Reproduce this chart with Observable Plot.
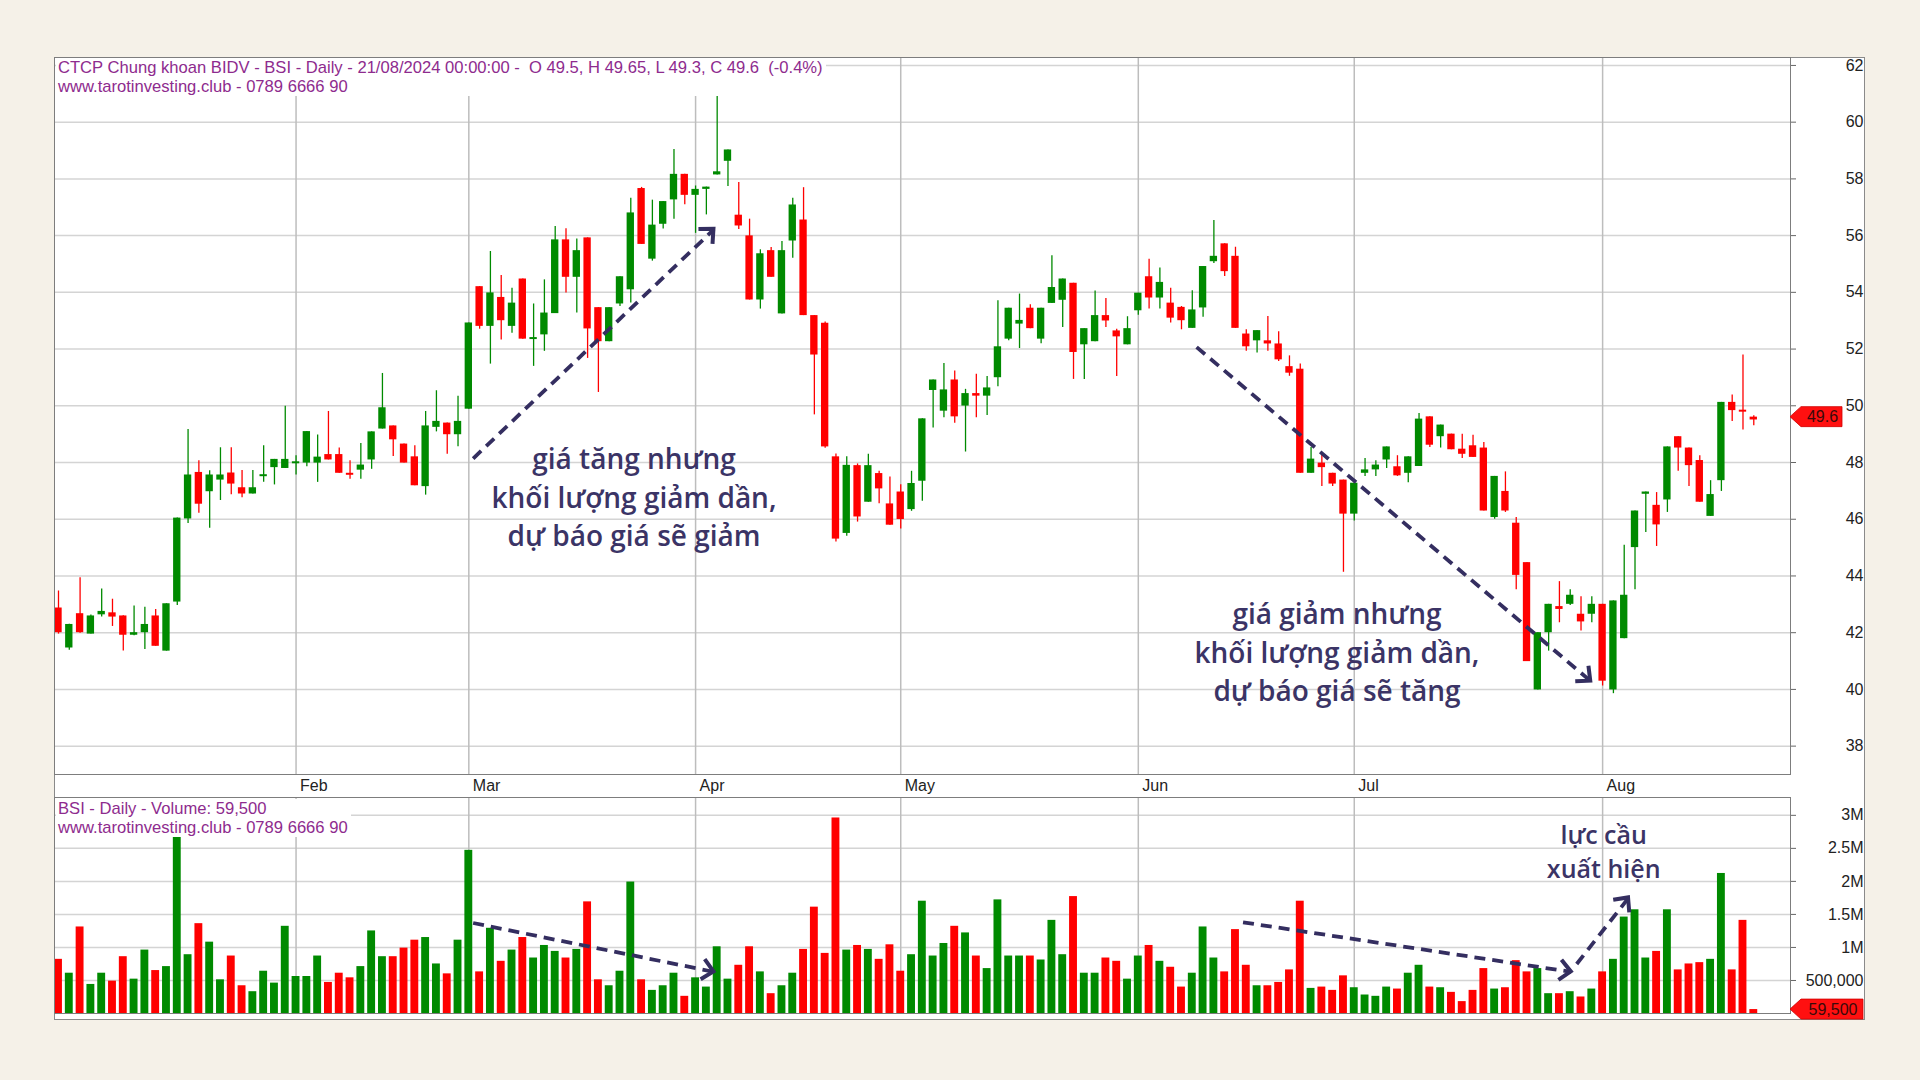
<!DOCTYPE html>
<html>
<head>
<meta charset="utf-8">
<script src="https://cdn.jsdelivr.net/npm/d3@7"></script>
<script src="https://cdn.jsdelivr.net/npm/@observablehq/plot@0.6"></script>
<style>
  html, body { margin: 0; padding: 0; }
  body { width: 1920px; height: 1080px; overflow: hidden; background: #f5f1e8; position: relative; font-family: "Liberation Sans", Arial, sans-serif; }
  #frame { position: absolute; left: 54px; top: 57px; width: 1811px; height: 963px; background: #fff; box-sizing: border-box; border: 1px solid #8a8a8a; }
  #price { position: absolute; left: 54px; top: 57px; }
  #volume { position: absolute; left: 54px; top: 797px; }
  .hdr { position: absolute; background: #fff; color: #8e2b8e; font-size: 16.6px; line-height: 19px; white-space: pre; padding: 0 3px 0 2px; }
</style>
</head>
<body>
<div id="frame"></div>
<div id="price"></div>
<div id="volume"></div>
<div class="hdr" style="left:56px;top:58px;">CTCP Chung khoan BIDV - BSI - Daily - 21/08/2024 00:00:00 -  O 49.5, H 49.65, L 49.3, C 49.6  (-0.4%)
www.tarotinvesting.club - 0789 6666 90</div>
<div class="hdr" style="left:56px;top:799px;">BSI - Daily - Volume: 59,500
www.tarotinvesting.club - 0789 6666 90</div>
<script>
// ---------- DATA ----------
const opens = [
  42.87,41.46,42.67,41.95,42.63,42.70,42.59,41.91,42.00,42.59,
  41.35,43.08,46.01,47.65,46.97,47.38,47.63,47.11,46.89,47.52,
  47.82,47.79,47.98,47.98,47.98,48.28,48.28,47.62,47.73,48.09,
  49.18,49.29,48.65,48.20,47.15,49.24,49.39,48.98,49.88,54.20,
  52.80,53.82,52.80,54.47,52.36,52.50,53.25,55.85,54.53,55.92,
  53.46,52.26,53.59,54.09,57.66,55.17,56.40,57.26,58.16,57.42,
  57.63,58.14,58.62,56.72,55.99,53.73,55.47,53.24,55.81,56.55,
  53.18,52.91,48.20,45.50,47.89,46.60,47.61,46.54,46.96,46.34,
  47.34,50.54,49.81,50.91,49.99,50.43,50.34,50.99,52.35,52.88,
  53.44,52.35,53.61,53.72,54.32,52.15,52.26,53.18,52.64,52.15,
  53.35,54.55,53.80,53.62,53.47,52.73,53.45,55.08,55.71,55.27,
  52.53,52.29,52.29,52.18,51.38,51.29,47.62,47.98,47.62,47.38,
  46.18,47.62,47.74,48.09,47.85,47.62,47.86,49.61,48.91,49.00,
  48.47,48.59,48.51,46.06,46.98,45.86,44.47,39.98,42.00,42.92,
  43.00,42.65,42.65,43.00,39.98,41.79,45.00,46.88,46.49,46.68,
  48.91,48.51,48.07,46.10,47.36,50.12,49.83,49.60
];
const highs = [
  43.47,42.30,43.94,42.62,43.54,43.18,42.60,42.94,42.90,42.82,
  43.02,46.04,49.16,48.06,47.71,48.52,48.52,47.72,47.72,48.59,
  48.11,49.98,48.24,49.09,48.97,49.80,48.51,48.06,48.67,49.08,
  51.14,49.29,48.65,48.59,49.80,50.53,49.39,50.34,52.92,54.20,
  55.44,54.59,54.14,54.47,53.59,54.44,56.32,56.24,55.88,55.92,
  53.46,53.46,54.55,57.32,57.70,57.25,57.20,59.04,58.16,57.75,
  57.71,61.13,59.02,57.87,56.58,55.50,55.58,55.79,57.32,57.69,
  53.18,52.95,48.30,48.20,47.95,48.29,47.69,47.49,47.22,47.69,
  49.54,50.91,51.49,51.23,50.58,51.11,51.03,53.70,53.44,53.94,
  53.56,53.44,55.29,54.47,54.32,52.72,54.05,53.78,52.70,53.14,
  53.97,55.17,54.86,54.14,53.50,54.06,54.91,56.53,55.71,55.59,
  52.68,52.65,53.15,52.61,51.76,51.47,48.53,48.29,47.62,47.38,
  47.27,48.14,48.06,48.55,48.24,48.20,49.73,49.61,49.32,49.00,
  49.00,48.96,48.71,47.51,47.67,46.06,44.47,42.00,43.00,43.80,
  43.51,43.27,43.27,43.00,43.12,45.08,46.29,46.96,46.94,48.55,
  48.91,48.51,48.24,47.36,50.12,50.38,51.79,49.65
];
const lows = [
  41.95,41.38,41.98,41.95,42.55,42.22,41.35,41.89,41.41,41.52,
  41.35,42.96,45.85,46.21,45.68,46.66,46.86,46.76,46.89,47.30,
  47.21,47.79,47.56,47.85,47.30,48.09,47.62,47.41,47.41,47.76,
  49.18,48.21,47.98,47.18,46.85,49.08,48.29,48.56,49.88,52.70,
  51.47,52.32,52.56,52.35,51.39,51.92,53.25,53.98,53.27,51.67,
  50.47,52.26,53.50,53.62,55.69,55.10,56.23,56.58,57.09,56.08,
  56.73,58.14,57.73,56.22,53.73,53.41,54.53,53.24,55.20,53.18,
  49.68,48.50,45.20,45.40,45.90,46.60,46.55,45.79,45.66,46.28,
  46.63,49.22,49.58,49.38,48.37,49.58,49.66,50.67,52.29,52.02,
  52.72,52.19,53.61,52.76,50.93,50.93,52.26,52.76,51.03,52.15,
  53.19,53.41,53.41,52.92,52.68,52.73,53.12,55.02,54.56,52.73,
  51.92,51.86,51.92,51.56,51.04,47.62,47.62,47.15,47.15,44.13,
  45.94,47.51,47.51,47.79,47.51,47.29,47.86,48.53,48.51,48.45,
  48.14,48.18,46.29,46.00,46.24,43.51,40.98,39.98,41.35,42.35,
  42.96,42.06,42.35,40.12,39.85,41.79,43.51,45.53,45.04,46.24,
  47.69,47.15,46.60,46.10,46.98,49.45,49.15,49.30
];
const closes = [
  42.00,42.29,42.00,42.59,42.75,42.55,41.91,42.00,42.29,41.52,
  43.02,46.04,47.56,46.53,47.56,47.56,47.24,46.89,47.11,47.55,
  48.11,48.11,48.00,49.09,48.19,48.09,47.62,47.55,47.91,49.08,
  49.93,48.80,47.98,47.18,49.29,49.45,48.98,49.45,52.92,52.80,
  53.98,53.00,53.62,52.35,52.38,53.27,55.85,54.53,55.47,52.71,
  52.26,53.46,54.55,56.80,55.69,56.37,57.20,58.16,57.42,57.63,
  57.71,58.25,59.02,56.34,53.73,55.36,54.53,55.47,57.08,53.18,
  51.79,48.55,45.30,47.90,46.08,47.89,47.07,45.79,45.99,47.26,
  49.54,50.91,50.56,49.61,50.43,50.34,50.63,52.08,53.44,53.01,
  52.72,53.44,54.17,54.47,51.88,52.72,53.18,52.99,52.43,52.72,
  53.97,53.80,54.35,53.09,53.00,53.38,54.91,55.27,54.73,52.73,
  52.08,52.65,52.18,51.62,51.15,47.62,48.12,47.82,47.24,46.18,
  47.27,47.74,47.91,48.55,47.53,48.20,49.53,48.61,49.32,48.45,
  48.29,48.18,46.29,47.51,46.29,44.02,40.98,42.00,43.00,42.82,
  43.32,42.38,43.00,40.29,43.12,43.32,46.29,46.96,45.80,48.55,
  48.51,47.89,46.60,46.87,50.12,49.83,49.79,49.50
];
// volume in millions of shares
const volumesM = [
  0.82,0.61,1.31,0.44,0.61,0.49,0.86,0.52,0.96,0.65,
  0.71,2.67,0.89,1.36,1.08,0.51,0.87,0.42,0.33,0.64,
  0.46,1.32,0.56,0.56,0.87,0.47,0.61,0.54,0.71,1.25,
  0.86,0.86,0.99,1.11,1.15,0.75,0.60,1.11,2.47,0.63,
  1.29,0.79,0.96,1.15,0.84,1.03,0.94,0.84,0.97,1.69,
  0.51,0.42,0.64,1.99,0.51,0.35,0.42,0.61,0.26,0.54,
  0.40,1.01,0.52,0.73,1.01,0.63,0.30,0.42,0.61,0.97,
  1.61,0.91,2.96,0.96,1.03,0.97,0.82,1.04,0.64,0.89,
  1.70,0.87,1.06,1.32,1.22,0.87,0.68,1.72,0.87,0.87,
  0.87,0.81,1.41,0.89,1.77,0.61,0.61,0.84,0.79,0.52,
  0.87,1.03,0.79,0.70,0.40,0.61,1.31,0.84,0.63,1.27,
  0.73,0.42,0.42,0.47,0.66,1.70,0.38,0.40,0.35,0.57,
  0.39,0.28,0.26,0.40,0.37,0.61,0.73,0.40,0.39,0.32,
  0.18,0.35,0.68,0.37,0.39,0.80,0.63,0.68,0.30,0.30,
  0.33,0.25,0.37,0.63,0.82,1.46,1.57,0.84,0.94,1.57,
  0.66,0.75,0.77,0.82,2.12,0.66,1.41,0.0595
];
const monthIdx = [22, 38, 59, 78, 100, 120, 143];   // first trading day of each month (bar index)
const monthLabels = ["Feb", "Mar", "Apr", "May", "Jun", "Jul", "Aug"];
const priceTicks = [38, 40, 42, 44, 46, 48, 50, 52, 54, 56, 58, 60, 62];
const volTicks = [500000, 1000000, 1500000, 2000000, 2500000, 3000000];
const volTickLabels = ["500,000", "1M", "1.5M", "2M", "2.5M", "3M"];
const lastClose = 49.6;
const lastVolume = 59500;

// annotations (in data units: bar index, price / volume)
const priceArrows = [
  {x1: 38.4, y1: 48.14, x2: 60.7, y2: 56.22},
  {x1: 105.4, y1: 52.07, x2: 141.9, y2: 40.29}
];
const volArrows = [
  {x1: 38.4, y1: 1370000, x2: 60.7, y2: 630000},
  {x1: 109.7, y1: 1380000, x2: 140.1, y2: 630000},
  {x1: 140.6, y1: 750000, x2: 145.4, y2: 1750000}
];
const priceNotes = [
  {x: 53.3, y: 46.84, text: "giá tăng nhưng\nkhối lượng giảm dần,\ndự báo giá sẽ giảm"},
  {x: 118.4, y: 41.37, text: "giá giảm nhưng\nkhối lượng giảm dần,\ndự báo giá sẽ tăng"}
];
const volNotes = [
  {x: 143.1, y: 2470000, text: "lực cầu\nxuất hiện"}
];

// ---------- BUILD ----------
const GREEN = "#008a00", RED = "#ff0000", NAVY = "#342e60", NOTE = "#3b3466";
const candles = opens.map((o, i) => {
  const c = closes[i];
  return {i, o, h: highs[i], l: lows[i], c, v: volumesM[i] * 1e6, col: c >= o ? GREEN : RED};
});
const bodyLo = d => { const lo = Math.min(d.o, d.c), hi = Math.max(d.o, d.c); return hi - lo < 0.07 ? (lo + hi) / 2 - 0.035 : lo; };
const bodyHi = d => { const lo = Math.min(d.o, d.c), hi = Math.max(d.o, d.c); return hi - lo < 0.07 ? (lo + hi) / 2 + 0.035 : hi; };

const W = 1811;
const xDomain = [-0.37, 160.4];
const baseStyle = {background: "transparent", fontFamily: "'Liberation Sans', Arial, sans-serif", fontSize: "16px", color: "#222", overflow: "visible"};
const noteFont = {fontFamily: "'Open Sans', 'Noto Sans', sans-serif", fontWeight: 600, fill: NOTE, lineAnchor: "middle", textAnchor: "middle"};

const priceChart = Plot.plot({
  width: W, height: 740,
  marginTop: 0, marginRight: 75, marginBottom: 23, marginLeft: 0,
  style: baseStyle,
  x: {type: "linear", domain: xDomain},
  y: {domain: [37.0, 62.28]},
  marks: [
    Plot.gridY(priceTicks, {stroke: "#d4d4d4", strokeOpacity: 1, strokeWidth: 1.5}),
    Plot.gridX(monthIdx, {stroke: "#bdbdbd", strokeOpacity: 1, strokeWidth: 1.5}),
    Plot.ruleX(candles, {x: "i", y1: "l", y2: "h", stroke: d => d.col, strokeWidth: 1.3}),
    Plot.rect(candles, {x1: d => d.i - 0.34, x2: d => d.i + 0.34, y1: bodyLo, y2: bodyHi, fill: d => d.col}),
    Plot.link(priceArrows, {x1: "x1", y1: "y1", x2: "x2", y2: "y2", stroke: NAVY, strokeWidth: 3.8, strokeDasharray: "11,7"}),
    Plot.text(priceNotes, {x: "x", y: "y", text: "text", fontSize: 28, lineHeight: 1.375, ...noteFont}),
    Plot.frame({stroke: "#7d7d7d", strokeWidth: 1}),
    Plot.axisY(priceTicks, {anchor: "right", tickSize: 5, tickPadding: 68, textAnchor: "end", label: null, stroke: "#666", fill: "#222"}),
    Plot.axisX(monthIdx, {anchor: "bottom", tickSize: 0, tickPadding: 5, textAnchor: "start", dx: 4, label: null,
      tickFormat: i => monthLabels[monthIdx.indexOf(i)], fill: "#222"})
  ]
});

const volChart = Plot.plot({
  width: W, height: 223,
  marginTop: 0, marginRight: 75, marginBottom: 7, marginLeft: 0,
  style: baseStyle,
  x: {type: "linear", domain: xDomain, axis: null},
  y: {domain: [0, 3270000]},
  marks: [
    Plot.gridY(volTicks, {stroke: "#d4d4d4", strokeOpacity: 1, strokeWidth: 1.5}),
    Plot.gridX(monthIdx, {stroke: "#bdbdbd", strokeOpacity: 1, strokeWidth: 1.5}),
    Plot.rect(candles, {x1: d => d.i - 0.365, x2: d => d.i + 0.365, y1: 0, y2: "v", fill: d => d.col}),
    Plot.link(volArrows, {x1: "x1", y1: "y1", x2: "x2", y2: "y2", stroke: NAVY, strokeWidth: 3.8, strokeDasharray: "11,7"}),
    Plot.text(volNotes, {x: "x", y: "y", text: "text", fontSize: 25, lineHeight: 1.36, ...noteFont}),
    Plot.frame({stroke: "#7d7d7d", strokeWidth: 1}),
    Plot.axisY(volTicks, {anchor: "right", tickSize: 5, tickPadding: 68, textAnchor: "end", label: null, stroke: "#666", fill: "#222",
      tickFormat: v => volTickLabels[volTicks.indexOf(v)]})
  ]
});

// arrowheads and last-value tags, positioned through the plots' own scales
function addHeads(chart, arrows) {
  const sx = chart.scale("x"), sy = chart.scale("y");
  const g = d3.select(chart).append("g");
  for (const a of arrows) {
    const x1 = sx.apply(a.x1), y1 = sy.apply(a.y1), x2 = sx.apply(a.x2), y2 = sy.apply(a.y2);
    const ang = Math.atan2(y2 - y1, x2 - x1), L = 15, spread = Math.PI / 4.2;
    const w1 = [x2 - L * Math.cos(ang - spread), y2 - L * Math.sin(ang - spread)];
    const w2 = [x2 - L * Math.cos(ang + spread), y2 - L * Math.sin(ang + spread)];
    g.append("path")
      .attr("d", `M${w1[0]},${w1[1]}L${x2},${y2}L${w2[0]},${w2[1]}`)
      .attr("fill", "none").attr("stroke", NAVY).attr("stroke-width", 4)
      .attr("stroke-linejoin", "miter").attr("stroke-linecap", "butt");
  }
}
function addTag(chart, value, label, right) {
  const sy = chart.scale("y"), sx = chart.scale("x");
  const y = sy.apply(value), x0 = sx.range[1];
  const g = d3.select(chart).append("g");
  g.append("path")
    .attr("d", `M${x0},${y}L${x0 + 11},${y - 10}L${right},${y - 10}L${right},${y + 10}L${x0 + 11},${y + 10}Z`)
    .attr("fill", "#ff1010").attr("stroke", "#d00000").attr("stroke-width", 0.8);
  g.append("text")
    .attr("x", (x0 + 11 + right) / 2 + 1).attr("y", y).attr("dy", "0.35em")
    .attr("text-anchor", "middle").attr("font-size", 16).attr("fill", "#3a0a0a")
    .text(label);
}
addHeads(priceChart, priceArrows);
addHeads(volChart, volArrows);
addTag(priceChart, lastClose, String(lastClose), 1788);
addTag(volChart, lastVolume, d3.format(",")(lastVolume), 1809);

document.getElementById("price").appendChild(priceChart);
document.getElementById("volume").appendChild(volChart);
</script>
</body>
</html>
